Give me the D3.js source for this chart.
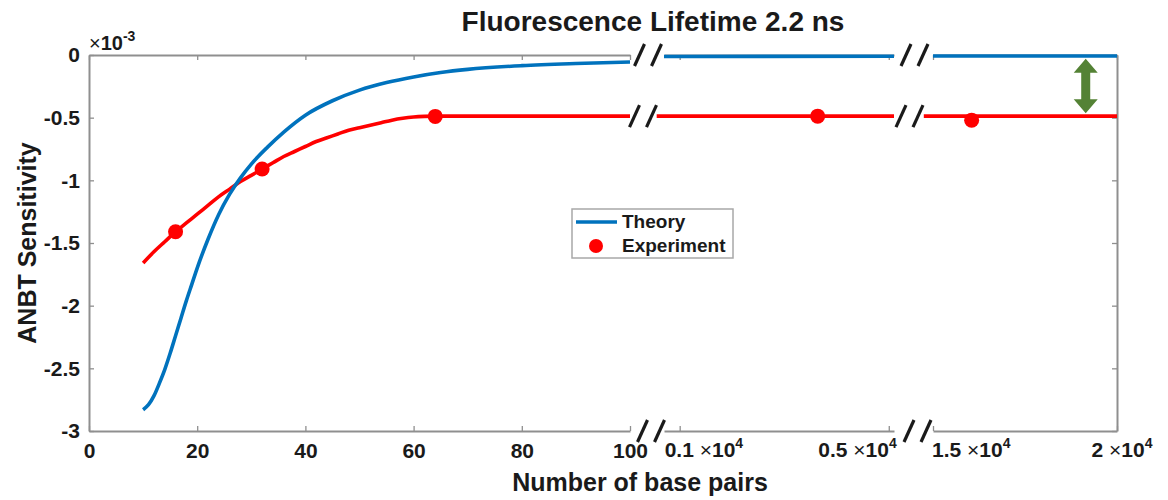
<!DOCTYPE html>
<html>
<head>
<meta charset="utf-8">
<script src="https://cdn.jsdelivr.net/npm/d3@7"></script>
<style>
  html, body { margin: 0; padding: 0; background: #fff; }
  svg { display: block; font-family: "Liberation Sans", Arial, Helvetica, sans-serif; }
</style>
</head>
<body>
<svg id="chart" width="1168" height="500"></svg>
<script>
// ---------------- DATA (sensitivity in units of 1e-3) ----------------
const titleText = "Fluorescence Lifetime 2.2 ns";
const xLabelText = "Number of base pairs";
const yLabelText = "ANBT Sensitivity";
const yExponentText = "-3";

// x-axis broken into three segments
const segmentDomains = [[0, 100], [700, 5100], [15000, 20000]];
const seg1Ticks = [0, 20, 40, 60, 80, 100];
const seg1TickLabels = ["0", "20", "40", "60", "80", "100"];
const expTicks = [[], [1000, 5000], [15000, 20000]];
const expTickMantissas = [[], ["0.1", "0.5"], ["1.5", "2"]];
const xExponentText = "4";

const yTicks = [0, -0.5, -1, -1.5, -2, -2.5, -3];
const yTickLabels = ["0", "-0.5", "-1", "-1.5", "-2", "-2.5", "-3"];

// Theory curve (blue)
const theoryN1 = [10, 11, 12, 13, 14, 15, 16, 17, 18, 19, 20, 22, 24, 26, 28, 30, 33, 36, 40, 45, 50, 55, 60, 65, 70, 80, 90, 100];
const theoryV1 = [-2.83, -2.79, -2.72, -2.62, -2.51, -2.38, -2.24, -2.10, -1.96, -1.83, -1.70, -1.47, -1.27, -1.11, -0.98, -0.87, -0.735, -0.615, -0.48, -0.365, -0.28, -0.22, -0.175, -0.14, -0.115, -0.085, -0.068, -0.056];
const theoryN2 = [700, 5100];
const theoryV2 = [-0.012, -0.010];
const theoryN3 = [15000, 20000];
const theoryV3 = [-0.008, -0.008];

// Experimental fit line (red)
const fitN1 = [10, 12, 14, 16, 18, 20, 22, 24, 26, 28, 30, 32, 34, 36, 38, 40, 42, 44, 46, 48, 50, 52, 54, 56, 58, 60, 62, 64, 100];
const fitV1 = [-1.66, -1.57, -1.49, -1.41, -1.34, -1.27, -1.20, -1.13, -1.07, -1.01, -0.96, -0.91, -0.86, -0.81, -0.77, -0.73, -0.69, -0.66, -0.63, -0.60, -0.58, -0.56, -0.54, -0.52, -0.505, -0.495, -0.49, -0.488, -0.488];
const fitN2 = [560, 5100];
const fitV2 = [-0.488, -0.488];
const fitN3 = [14750, 20000];
const fitV3 = [-0.488, -0.488];

// Experiment points (red dots)
const expN = [16, 32, 64, 3640, 16050];
const expV = [-1.41, -0.91, -0.49, -0.488, -0.52];

// Difference arrow (green)
const arrowN = 19150;
const arrowFrom = -0.03;
const arrowTo = -0.465;

const legendLabels = ["Theory", "Experiment"];

// ---------------- LAYOUT / STYLE ----------------
const segmentRanges = [[89, 630], [664, 894], [933, 1117]];
const plotTop = 55, plotBottom = 431;
const axisColor = "#8f8f8f";
const blue = "#0072BD", red = "#FF0000", green = "#548235";
const textColor = "#1a1a1a";
const tickLen = 5;

const svg = d3.select("#chart");
const y = d3.scaleLinear().domain([-3, 0]).range([plotBottom, plotTop]);
const xs = segmentDomains.map((d, i) => d3.scaleLinear().domain(d).range(segmentRanges[i]));

// which segment holds value n
function segOf(n) {
  if (n <= 100) return 0;
  if (n <= 10000) return 1;
  return 2;
}

// ---------------- AXES ----------------
const axesG = svg.append("g");
xs.forEach((x, i) => {
  const ticks = i === 0 ? seg1Ticks : expTicks[i];
  const gb = axesG.append("g").attr("transform", `translate(0,${plotBottom})`)
    .call(d3.axisBottom(x).tickValues(ticks).tickSizeInner(-tickLen).tickSizeOuter(0)
      .tickPadding(12).tickFormat((d, k) => i === 0 ? seg1TickLabels[k] : ""));
  const gt = axesG.append("g").attr("transform", `translate(0,${plotTop})`)
    .call(d3.axisTop(x).tickValues(ticks).tickSizeInner(-tickLen).tickSizeOuter(0).tickFormat(""));
  [gb, gt].forEach(g => {
    g.select(".domain").attr("stroke", axisColor).attr("stroke-width", 2);
    g.selectAll(".tick line").attr("stroke", axisColor).attr("stroke-width", 1.3);
  });
  gb.selectAll(".tick text").attr("fill", textColor).attr("font-size", 21).attr("font-weight", "bold");
});

// left axis
const gl = axesG.append("g").attr("transform", `translate(${segmentRanges[0][0]},0)`)
  .call(d3.axisLeft(y).tickValues(yTicks).tickSizeInner(-tickLen).tickSizeOuter(0)
    .tickPadding(9).tickFormat((d, k) => yTickLabels[k]));
gl.select(".domain").attr("stroke", axisColor).attr("stroke-width", 2);
gl.selectAll(".tick line").attr("stroke", axisColor).attr("stroke-width", 1.3);
gl.selectAll(".tick text").attr("fill", textColor).attr("font-size", 21).attr("font-weight", "bold");

// right axis
const gr = axesG.append("g").attr("transform", `translate(${segmentRanges[2][1]},0)`)
  .call(d3.axisRight(y).tickValues(yTicks).tickSizeInner(-tickLen).tickSizeOuter(0).tickFormat(""));
gr.select(".domain").attr("stroke", axisColor).attr("stroke-width", 2);
gr.selectAll(".tick line").attr("stroke", axisColor).attr("stroke-width", 1.3);

// exponent tick labels for segments 2 and 3
const expLabelStyle = [[], [{anchor: "start", dx: -15}, {anchor: "end", dx: 8}], [{anchor: "start", dx: -1}, {anchor: "middle", dx: 5}]];
xs.forEach((x, i) => {
  expTicks[i].forEach((t, k) => {
    const st = expLabelStyle[i][k];
    const tx = axesG.append("text")
      .attr("x", x(t) + st.dx).attr("y", plotBottom + 26)
      .attr("text-anchor", st.anchor)
      .attr("fill", textColor).attr("font-size", 21).attr("font-weight", "bold");
    tx.append("tspan").text(expTickMantissas[i][k] + " ");
    tx.append("tspan").attr("font-weight", "normal").text("\u00d7");
    tx.append("tspan").text("10");
    tx.append("tspan").attr("font-size", 14).attr("dy", -9).text(xExponentText);
  });
});

// y exponent label
const ye = axesG.append("text").attr("x", 89).attr("y", 50)
  .attr("fill", textColor).attr("font-size", 20).attr("font-weight", "bold");
ye.append("tspan").attr("font-weight", "normal").text("\u00d7");
ye.append("tspan").text("10");
ye.append("tspan").attr("font-size", 14).attr("dy", -9).text(yExponentText);

// ---------------- LINES ----------------
const lineGen = (x) => d3.line().x(d => x(d[0])).y(d => y(d[1])).curve(d3.curveMonotoneX);
const linesG = svg.append("g");
function drawLine(ns, vs, segIdx, color) {
  const pts = ns.map((n, k) => [n, vs[k]]);
  linesG.append("path").datum(pts)
    .attr("d", lineGen(xs[segIdx]))
    .attr("fill", "none").attr("stroke", color).attr("stroke-width", 3.6)
    .attr("stroke-linejoin", "round");
}
drawLine(fitN1, fitV1, 0, red);
drawLine(fitN2, fitV2, 1, red);
drawLine(fitN3, fitV3, 2, red);
drawLine(theoryN1, theoryV1, 0, blue);
drawLine(theoryN2, theoryV2, 1, blue);
drawLine(theoryN3, theoryV3, 2, blue);

// experiment dots
linesG.selectAll("circle.exp").data(expN.map((n, k) => [n, expV[k]])).enter()
  .append("circle").attr("class", "exp")
  .attr("cx", d => xs[segOf(d[0])](d[0])).attr("cy", d => y(d[1]))
  .attr("r", 7.5).attr("fill", red);

// ---------------- BREAK MARKS ----------------
const breakG = svg.append("g");
const gaps = [0, 1].map(i => (segmentRanges[i][1] + segmentRanges[i + 1][0]) / 2);
const breakLevels = [{v: 0, dx: 1}, {v: fitV2[0], dx: -4}, {v: -3, dx: 4}];
gaps.forEach(cx => {
  breakLevels.forEach(b => {
    const cy = y(b.v);
    [-8.5, 8.5].forEach(o => {
      breakG.append("line")
        .attr("x1", cx + b.dx + o - 5).attr("y1", cy + 11)
        .attr("x2", cx + b.dx + o + 5).attr("y2", cy - 11)
        .attr("stroke", "#1a1a1a").attr("stroke-width", 3.2);
    });
  });
});

// ---------------- ARROW ----------------
(function () {
  const ax = xs[segOf(arrowN)](arrowN);
  const y1 = y(arrowFrom), y2 = y(arrowTo);
  const hw = 12, sw = 4.5, hl = 14;
  const pts = [
    [ax, y1], [ax + hw, y1 + hl], [ax + sw, y1 + hl], [ax + sw, y2 - hl], [ax + hw, y2 - hl],
    [ax, y2], [ax - hw, y2 - hl], [ax - sw, y2 - hl], [ax - sw, y1 + hl], [ax - hw, y1 + hl]
  ];
  svg.append("polygon").attr("points", pts.map(p => p.join(",")).join(" ")).attr("fill", green);
})();

// ---------------- LEGEND ----------------
const lg = svg.append("g").attr("transform", "translate(572,209)");
lg.append("rect").attr("width", 161).attr("height", 49).attr("fill", "#fff")
  .attr("stroke", "#a8a8a8").attr("stroke-width", 1.5);
lg.append("line").attr("x1", 4).attr("x2", 45).attr("y1", 13).attr("y2", 13)
  .attr("stroke", blue).attr("stroke-width", 3.6);
lg.append("circle").attr("cx", 24).attr("cy", 37).attr("r", 7).attr("fill", red);
legendLabels.forEach((t, k) => {
  lg.append("text").attr("x", 50).attr("y", 19 + k * 24).text(t)
    .attr("fill", textColor).attr("font-size", 19).attr("font-weight", "bold");
});

// ---------------- TITLES ----------------
svg.append("text").attr("x", 653).attr("y", 31).attr("text-anchor", "middle")
  .attr("font-size", 28).attr("font-weight", "bold").attr("fill", textColor).text(titleText);
svg.append("text").attr("x", 640).attr("y", 491).attr("text-anchor", "middle")
  .attr("font-size", 25).attr("font-weight", "bold").attr("fill", textColor).text(xLabelText);
svg.append("text").attr("transform", "translate(36,243) rotate(-90)").attr("text-anchor", "middle")
  .attr("font-size", 25).attr("font-weight", "bold").attr("fill", textColor).text(yLabelText);
</script>
</body>
</html>
